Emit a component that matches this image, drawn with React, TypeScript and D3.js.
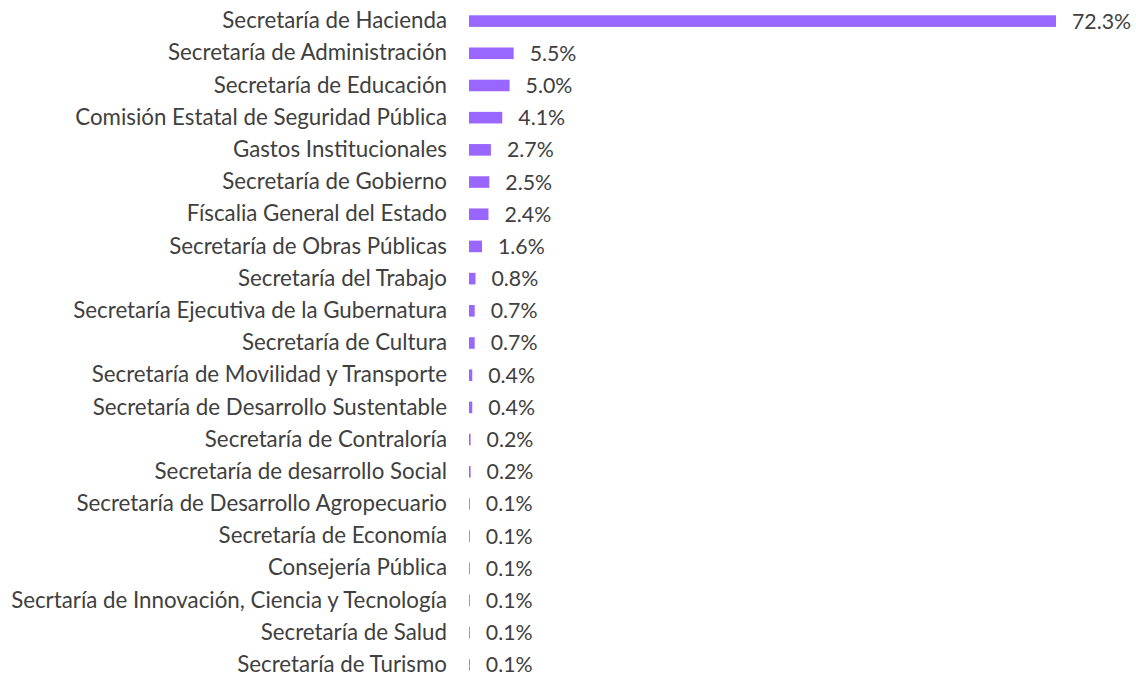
import { useEffect, useRef } from 'react'
import { select, scaleLinear, scaleBand } from 'd3'

const categories = [
  'Secretaría de Hacienda',
  'Secretaría de Administración',
  'Secretaría de Educación',
  'Comisión Estatal de Seguridad Pública',
  'Gastos Institucionales',
  'Secretaría de Gobierno',
  'Físcalia General del Estado',
  'Secretaría de Obras Públicas',
  'Secretaría del Trabajo',
  'Secretaría Ejecutiva de la Gubernatura',
  'Secretaría de Cultura',
  'Secretaría de Movilidad y Transporte',
  'Secretaría de Desarrollo Sustentable',
  'Secretaría de Contraloría',
  'Secretaría de desarrollo Social',
  'Secretaría de Desarrollo Agropecuario',
  'Secretaría de Economía',
  'Consejería Pública',
  'Secrtaría de Innovación, Ciencia y Tecnología',
  'Secretaría de Salud',
  'Secretaría de Turismo',
]

const values = [72.3, 5.5, 5.0, 4.1, 2.7, 2.5, 2.4, 1.6, 0.8, 0.7, 0.7, 0.4, 0.4, 0.2, 0.2, 0.1, 0.1, 0.1, 0.1, 0.1, 0.1]

function App() {
  const svg_ref = useRef<SVGSVGElement>(null)
  const width = 1136,
        height = 679

  useEffect(() => {
    const svg = select(svg_ref.current)
    svg.selectAll('*').remove()

    const x = scaleLinear([0, 72.3], [469, 1056])
    const y = scaleBand(categories, [5, 681]).paddingInner(0.64).paddingOuter(0.32)

    const data = categories.map((c, i) => ({ name: c, value: values[i] }))
    const font = 'Lato, "Open Sans", sans-serif'

    svg.append('g')
      .selectAll('rect')
      .data(data)
      .join('rect')
      .attr('x', x(0))
      .attr('y', d => y(d.name)!)
      .attr('width', d => x(d.value) - x(0))
      .attr('height', y.bandwidth())
      .attr('fill', '#9966ff')

    svg.append('g')
      .selectAll('text')
      .data(data)
      .join('text')
      .attr('x', 447)
      .attr('y', d => y(d.name)! + y.bandwidth() / 2)
      .attr('dy', '0.32em')
      .attr('text-anchor', 'end')
      .attr('font-family', font)
      .attr('font-size', 22.3)
      .attr('fill', '#404040')
      .text(d => d.name)

    svg.append('g')
      .selectAll('text')
      .data(data)
      .join('text')
      .attr('x', d => x(d.value) + 16)
      .attr('y', d => y(d.name)! + y.bandwidth() / 2)
      .attr('dy', '0.35em')
      .attr('font-family', font)
      .attr('font-size', 21.3)
      .attr('fill', '#404040')
      .text(d => d.value.toFixed(1) + '%')
  }, [])

  return (
    <svg ref={svg_ref} width={width} height={height}
      style={{ position: 'absolute', left: 0, top: 0 }} />
  )
}

export default App
